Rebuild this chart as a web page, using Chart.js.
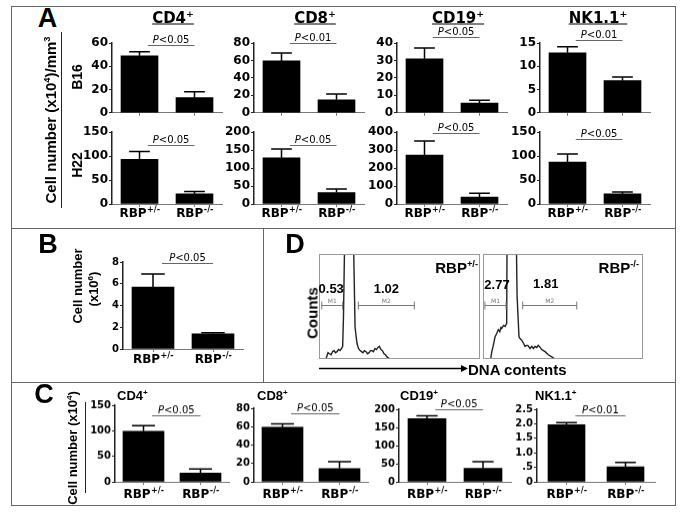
<!DOCTYPE html>
<html lang="en">
<head>
<meta charset="UTF-8">
<title>RBP cell numbers</title>
<script src="https://cdn.jsdelivr.net/npm/chart.js@4.4.1/dist/chart.umd.min.js"></script>
<style>
  body { margin: 0; background: #fff; }
  #fig { position: relative; width: 685px; height: 513px; overflow: hidden; background: #fff;
         font-family: "Liberation Sans", Arial, sans-serif; }
  #fig canvas, #fig svg { position: absolute; }
  .t { position: absolute; white-space: nowrap; font-weight: bold; line-height: 1; color: #000; }
  .t sup { font-size: 0.62em; vertical-align: 0.55em; line-height: 0; }
</style>
</head>
<body>
<div id="fig">
  <svg width="685" height="513" style="left:0;top:0">
    <g stroke="#666" stroke-width="1" fill="none" shape-rendering="crispEdges">
      <rect x="11.5" y="6.5" width="664" height="499"/>
      <line x1="11" y1="228.5" x2="676" y2="228.5"/>
      <line x1="11" y1="382.5" x2="676" y2="382.5"/>
      <line x1="263.5" y1="228" x2="263.5" y2="382"/>
    </g>
    <g stroke="#222" stroke-width="1" shape-rendering="crispEdges">
      <line x1="61.5" y1="32" x2="61.5" y2="208"/>
      <line x1="85.5" y1="402" x2="85.5" y2="493"/>
    </g>
    <line x1="319" y1="368.5" x2="462" y2="368.5" stroke="#000" stroke-width="1.6"/>
    <polygon points="461,365 468,368.5 461,372" fill="#000"/>
  </svg>
</div>
<script>
// x categories of every bar chart
const groups = ['RBP+/-', 'RBP-/-'];

// A: B16 tumours, cell number (x10^4)/mm^3 ; CD4, CD8, CD19, NK1.1
const b16Het = [49, 59.5, 31, 12.9];
const b16HetSem = [3.5, 9, 6.2, 1.3];
const b16Ko = [13, 15, 5.5, 6.9];
const b16KoSem = [5, 6.6, 1.7, 0.8];
const b16Max = [60, 80, 40, 15];
const b16Step = [20, 20, 10, 5];
const b16P = ['P<0.05', 'P<0.01', 'P<0.05', 'P<0.01'];

// A: H22 tumours
const h22Het = [93, 128, 272, 87.5];
const h22HetSem = [16.5, 25, 78, 16.5];
const h22Ko = [21, 32, 38, 21];
const h22KoSem = [5, 9.5, 22, 4];
const h22Max = [150, 200, 400, 150];
const h22Step = [50, 50, 100, 50];
const h22P = ['P<0.05', 'P<0.05', 'P<0.05', 'P<0.05'];

// B: cell number (x10^6)
const bMean = [5.7, 1.4];
const bSem = [1.2, 0.1];
const bMax = 8;
const bStep = 2;
const bP = 'P<0.05';

// C: cell number (x10^4)
const cHet = [99, 59.5, 174, 1.97];
const cHetSem = [11, 3.5, 8, 0.07];
const cKo = [17, 14.5, 37.6, 0.52];
const cKoSem = [8, 7.5, 18, 0.15];
const cMax = [150, 80, 200, 2.5];
const cStep = [50, 20, 50, 0.5];
const cP = ['P<0.05', 'P<0.05', 'P<0.05', 'P<0.01'];
const nkTickLabels = ['0', '.5', '1.0', '1.5', '2.0', '2.5'];

// D: DNA content histograms (channel 0-100, counts 0-100, peak is off scale)
const histHetX = [4.3, 5.6, 6.5, 7.5, 8.4, 9.3, 10.2, 11.2, 12.1, 13, 14, 14.7, 15.2, 15.8, 16.1, 21.1, 21.7, 22.4, 23.6, 24.5, 25.5, 26.4, 27.3, 28.3, 29.2, 30.1, 31.1, 32, 32.9, 33.8, 34.8, 35.7, 36.6, 37.5, 38.5, 39.4, 40.4, 41.3, 42.2, 44.1];
const histHetY = [0, 6, 5, 4, 7, 8, 6, 7, 9, 8, 10, 12, 40, 100, 140, 140, 90, 30, 15, 10, 8, 7, 6, 8, 7, 5, 6, 8, 8, 7, 10, 9, 11, 12, 9, 8, 5, 4, 2, 0];
const histKoX = [4.8, 5.5, 6.3, 7, 7.5, 8.5, 9.6, 10.5, 11.2, 11.7, 12.8, 13.8, 14.8, 15.1, 20.6, 21.3, 22.5, 23.4, 24.2, 25.3, 26.3, 27.2, 28, 29.4, 30.5, 31.5, 32.5, 33.6, 34.5, 35.2, 36.7, 37.8, 38.8, 40.8, 43, 45];
const histKoY = [0, 7, 12, 17, 21, 24, 28, 26, 30, 29, 32, 31, 34, 140, 140, 60, 21, 19, 18, 15, 12, 13, 13, 10, 12, 10, 12, 11, 13, 12, 9, 8, 7, 4, 2, 0];
const gateNames = ['M1', 'M2'];
const gatesHet = [[1.7, 14.7], [24.4, 59.2]];
const gatesKo = [[1.2, 14.4], [24.8, 58.6]];
const pctHet = ['0.53', '1.02'];
const pctKo = ['2.77', '1.81'];

const fig = document.getElementById('fig');

// ---- plugins ----
const errBars = {
  id: 'errBars',
  afterDatasetsDraw(chart) {
    const ctx = chart.ctx, y = chart.scales.y, ds = chart.data.datasets[0];
    ctx.save();
    ctx.strokeStyle = '#000';
    ctx.lineWidth = 1.5;
    chart.getDatasetMeta(0).data.forEach((bar, i) => {
      const top = y.getPixelForValue(ds.data[i] + ds.sem[i]);
      const half = bar.width * 0.28;
      ctx.beginPath();
      ctx.moveTo(bar.x, bar.y);
      ctx.lineTo(bar.x, top);
      ctx.moveTo(bar.x - half, top);
      ctx.lineTo(bar.x + half, top);
      ctx.stroke();
    });
    ctx.restore();
  }
};

const pLine = {
  id: 'pLine',
  afterDraw(chart, args, o) {
    const ctx = chart.ctx, x = chart.scales.x, y = chart.scales.y;
    const c1 = x.getPixelForValue(0), c2 = x.getPixelForValue(1);
    const x1 = c1 + (c2 - c1) * 0.15, x2 = c2;
    const ly = Math.round(y.getPixelForValue(o.level)) + 0.5;
    ctx.save();
    ctx.strokeStyle = '#666';
    ctx.lineWidth = 1;
    ctx.beginPath();
    ctx.moveTo(x1, ly);
    ctx.lineTo(x2, ly);
    ctx.stroke();
    const rest = o.text.slice(1);
    ctx.font = 'italic 10px "DejaVu Sans"';
    const wp = ctx.measureText('P').width;
    ctx.font = '10px "DejaVu Sans"';
    const wr = ctx.measureText(rest).width;
    const left = (x1 + x2) / 2 - (wp + wr) / 2;
    ctx.fillStyle = '#000';
    ctx.font = 'italic 10px "DejaVu Sans"';
    ctx.fillText('P', left, ly - 3);
    ctx.font = '10px "DejaVu Sans"';
    ctx.fillText(rest, left + wp, ly - 3);
    ctx.restore();
  }
};

const groupLabels = {
  id: 'groupLabels',
  afterDraw(chart, args, o) {
    if (!o.show) return;
    const ctx = chart.ctx, x = chart.scales.x, base = chart.chartArea.bottom + o.gap;
    ctx.save();
    ctx.fillStyle = '#000';
    chart.data.labels.forEach((lab, i) => {
      const main = lab.slice(0, 3), sup = lab.slice(3);
      ctx.font = 'bold 12px "DejaVu Sans"';
      const w1 = ctx.measureText(main).width;
      ctx.font = 'bold 8px "DejaVu Sans"';
      const w2 = ctx.measureText(sup).width;
      const left = x.getPixelForValue(i) - (w1 + w2) / 2;
      ctx.font = 'bold 12px "DejaVu Sans"';
      ctx.fillText(main, left, base);
      ctx.font = 'bold 8px "DejaVu Sans"';
      ctx.fillText(sup, left + w1 + 0.5, base - 5);
    });
    ctx.restore();
  }
};

const gatesPlugin = {
  id: 'gates',
  afterDraw(chart, args, o) {
    const ctx = chart.ctx, a = chart.chartArea, x = chart.scales.x, y = chart.scales.y;
    ctx.save();
    ctx.strokeStyle = '#999';
    ctx.lineWidth = 1;
    ctx.strokeRect(a.left + 0.5, a.top + 0.5, a.width - 1, a.height - 1);
    const gy = Math.round(y.getPixelForValue(o.level)) + 0.5;
    ctx.textAlign = 'center';
    o.gates.forEach((g, i) => {
      const x1 = x.getPixelForValue(g[0]), x2 = x.getPixelForValue(g[1]);
      ctx.strokeStyle = '#777';
      ctx.beginPath();
      ctx.moveTo(x1, gy); ctx.lineTo(x2, gy);
      ctx.moveTo(x1, gy - 4); ctx.lineTo(x1, gy + 4);
      ctx.moveTo(x2, gy - 4); ctx.lineTo(x2, gy + 4);
      ctx.stroke();
      const cx = (x1 + x2) / 2;
      ctx.fillStyle = '#777';
      ctx.font = '6px "DejaVu Sans"';
      ctx.fillText(o.names[i], cx, gy - 3);
      ctx.fillStyle = '#000';
      ctx.font = 'bold 13px "Liberation Sans"';
      ctx.fillText(o.pct[i], cx + o.shift[i], gy - o.rise[i]);
    });
    ctx.restore();
  }
};

// ---- builders ----
function barPanel(o) {
  const padTop = 26, yw = 40, padR = 6;
  const xh = o.gap ? 22 : 5;
  const w = yw + o.areaW + padR, h = padTop + (o.zero - o.top) + xh;
  const cv = document.createElement('canvas');
  cv.width = w; cv.height = h;
  cv.style.width = w + 'px'; cv.style.height = h + 'px';
  cv.style.left = (o.axisX - yw) + 'px';
  cv.style.top = (o.top - padTop) + 'px';
  fig.appendChild(cv);
  new Chart(cv, {
    type: 'bar',
    data: {
      labels: groups,
      datasets: [{ data: o.means, sem: o.sem, backgroundColor: '#000', barThickness: o.barW }]
    },
    plugins: [errBars, pLine, groupLabels],
    options: {
      responsive: false,
      animation: false,
      events: [],
      layout: { padding: { top: padTop, right: padR, left: 0, bottom: 0 } },
      plugins: {
        legend: { display: false },
        tooltip: { enabled: false },
        pLine: { text: o.p, level: o.pLevel },
        groupLabels: { show: !!o.gap, gap: o.gap }
      },
      scales: {
        x: {
          offset: true,
          grid: { drawOnChartArea: false, offset: false, tickLength: 3, color: '#777' },
          border: { color: '#777' },
          ticks: { display: false },
          afterFit: s => { s.height = xh; }
        },
        y: {
          min: 0, max: o.max,
          grid: { drawOnChartArea: false, tickLength: 3, color: '#222' },
          border: { color: '#222', width: 1.5 },
          ticks: {
            stepSize: o.step, padding: 1, color: '#000', autoSkip: false,
            font: { family: 'DejaVu Sans', weight: 'bold', size: o.tick },
            callback: (v, i) => o.tickLabels ? o.tickLabels[i] : v
          },
          afterFit: s => { s.width = yw; }
        }
      }
    }
  });
}

function histPanel(o) {
  const cv = document.createElement('canvas');
  cv.width = o.w; cv.height = o.h;
  cv.style.width = o.w + 'px'; cv.style.height = o.h + 'px';
  cv.style.left = o.left + 'px'; cv.style.top = o.top + 'px';
  fig.appendChild(cv);
  new Chart(cv, {
    type: 'line',
    data: { datasets: [{ data: o.xs.map((v, i) => ({ x: v, y: o.ys[i] })), borderColor: '#222', borderWidth: 1.4, pointRadius: 0, tension: 0 }] },
    plugins: [gatesPlugin],
    options: {
      responsive: false, animation: false, events: [],
      layout: { padding: 0 },
      plugins: {
        legend: { display: false }, tooltip: { enabled: false },
        gates: { gates: o.gates, names: gateNames, pct: o.pct, level: 51, shift: o.shift, rise: o.rise }
      },
      scales: {
        x: { type: 'linear', min: 0, max: 100, display: false },
        y: { min: 0, max: 100, display: false }
      }
    }
  });
}

function txt(html, x, y, size, opt) {
  opt = opt || {};
  const d = document.createElement('div');
  d.className = 't';
  d.innerHTML = html;
  d.style.fontSize = size + 'px';
  if (opt.family) d.style.fontFamily = opt.family;
  if (opt.under) d.style.textDecoration = 'underline';
  d.style.left = x + 'px';
  d.style.top = y + 'px';
  const ax = opt.anchor === 'left' ? '0' : opt.anchor === 'right' ? '-100%' : '-50%';
  d.style.transform = 'translate(' + ax + ',-50%)' + (opt.rot ? ' rotate(-90deg)' : '');
  fig.appendChild(d);
}

// ---- layout ----
const aColX = [112, 254, 397, 540];
const b16PLevel = [58, 80, 43.3, 15.6];
const h22PLevel = [123, 164, 394, 135];
const cColX = [115, 254, 399, 537];
const cTop = [405, 408, 409, 409];
const cAreaW = [114, 114, 112, 118];
const cBarW = [41, 41, 38, 37];
const cPLevel = [130, 74, 200, 2.3];

for (let i = 0; i < 4; i++) {
  barPanel({ axisX: aColX[i], top: 43, zero: 116, areaW: 110, barW: 37, tick: 12,
    max: b16Max[i], step: b16Step[i], means: [b16Het[i], b16Ko[i]], sem: [b16HetSem[i], b16KoSem[i]],
    p: b16P[i], pLevel: b16PLevel[i] });
  barPanel({ axisX: aColX[i], top: 132, zero: 204, areaW: 110, barW: 37, tick: 12, gap: 13,
    max: h22Max[i], step: h22Step[i], means: [h22Het[i], h22Ko[i]], sem: [h22HetSem[i], h22KoSem[i]],
    p: h22P[i], pLevel: h22PLevel[i] });
  barPanel({ axisX: cColX[i], top: cTop[i], zero: 481.5, areaW: cAreaW[i], barW: cBarW[i], tick: 10, gap: 16,
    max: cMax[i], step: cStep[i], means: [cHet[i], cKo[i]], sem: [cHetSem[i], cKoSem[i]],
    p: cP[i], pLevel: cPLevel[i], tickLabels: i === 3 ? nkTickLabels : null });
}
barPanel({ axisX: 123, top: 262, zero: 349, areaW: 120, barW: 42, tick: 10, gap: 14,
  max: bMax, step: bStep, means: bMean, sem: bSem, p: bP, pLevel: 7.9 });

histPanel({ left: 319, top: 254, w: 161, h: 105, xs: histHetX, ys: histHetY, gates: gatesHet, pct: pctHet, shift: [-1, 0], rise: [13, 13] });
histPanel({ left: 483, top: 254, w: 160, h: 105, xs: histKoX, ys: histKoY, gates: gatesKo, pct: pctKo, shift: [1.5, -4], rise: [17, 18] });

// ---- text ----
const DJ = '"DejaVu Sans", sans-serif';
txt('A', 47.5, 18, 27);
txt('B', 48, 243.5, 27);
txt('D', 295, 243.5, 27);
txt('C', 44, 394, 27);

txt('CD4<sup>+</sup>', 173, 18, 15, { family: DJ, under: true });
txt('CD8<sup>+</sup>', 315, 18, 15, { family: DJ, under: true });
txt('CD19<sup>+</sup>', 458, 18, 15, { family: DJ, under: true });
txt('NK1.1<sup>+</sup>', 598, 18, 15, { family: DJ, under: true });

txt('Cell number (x10<sup>4</sup>)/mm<sup>3</sup>', 50, 120, 15, { rot: true });
txt('B16', 77, 76.5, 14, { rot: true });
txt('H22', 77, 165, 14, { rot: true });

txt('Cell number', 77, 286, 13, { rot: true });
txt('(x10<sup>6</sup>)', 93, 289, 13, { rot: true });

txt('Counts', 311.5, 313, 15, { rot: true });
txt('DNA contents', 468, 368.5, 15, { anchor: 'left' });
txt('RBP<sup>+/-</sup>', 478, 267, 15, { anchor: 'right' });
txt('RBP<sup>-/-</sup>', 639, 267, 15, { anchor: 'right' });

txt('Cell number (x10<sup>4</sup>)', 72, 448, 13, { rot: true });
txt('CD4<sup>+</sup>', 117, 395, 13, { anchor: 'left' });
txt('CD8<sup>+</sup>', 257, 395, 13, { anchor: 'left' });
txt('CD19<sup>+</sup>', 400, 395, 13, { anchor: 'left' });
txt('NK1.1<sup>+</sup>', 535, 395, 13, { anchor: 'left' });
</script>
</body>
</html>
